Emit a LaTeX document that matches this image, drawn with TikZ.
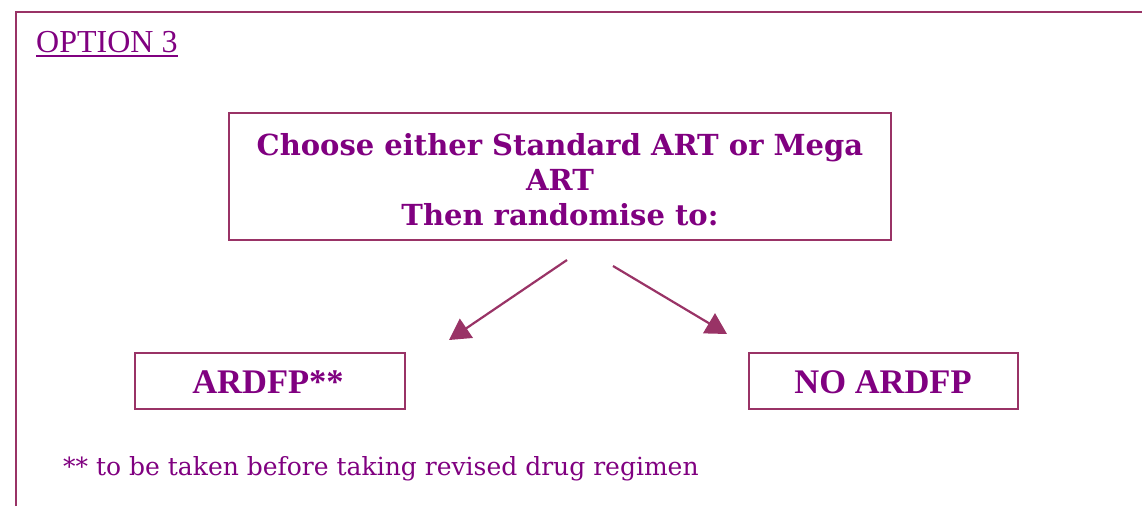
\documentclass[tikz,border=0pt]{standalone}
\usepackage{fontspec}
\setmainfont{Liberation Serif}
\newfontfamily\geo{DejaVu Serif}
\usetikzlibrary{arrows.meta,calc}
\definecolor{plum}{HTML}{993366}
\definecolor{txt}{HTML}{800080}
\tikzset{
  frame/.style={draw=plum,line width=2.4pt},
  boxnode/.style={draw=plum,line width=2pt,inner sep=0pt},
  boxtext/.style={text=txt,inner sep=0pt,anchor=base,font=\fontsize{34.5}{38}\selectfont\bfseries},
  maintext/.style={text=txt,inner sep=0pt,anchor=base,font=\geo\fontsize{29}{32}\selectfont\bfseries},
  arr/.style={draw=plum,fill=plum,line width=2.2pt,-{Triangle[length=21pt,width=23pt]}}
}
\begin{document}
\begin{tikzpicture}[x=1pt,y=-1pt]
\useasboundingbox (0,0) rectangle (1142,506);
\draw[frame] (16,506) -- (16,12) -- (1142,12);
\node[text=txt,inner sep=0pt,anchor=base west,font=\fontsize{32}{36}\selectfont] (opt) at (36,52) {OPTION 3};
\draw[txt,line width=1.8pt] ($(opt.base west)+(0,4)$) -- ($(opt.base east)+(0,4)$);
\node[boxnode,minimum width=662pt,minimum height=127pt] (main) at (560,176.5) {};
\node[maintext] (l1) at (560,155) {Choose either Standard ART or Mega};
\node[maintext] (l2) at (560,190) {ART};
\node[maintext] (l3) at (560,225) {Then randomise to:};
\node[boxnode,minimum width=270pt,minimum height=56pt] (left) at (269.5,381) {};
\node[boxtext] (lt) at (268,393) {ARDFP**};
\node[boxnode,minimum width=269pt,minimum height=56pt] (right) at (883.5,381) {};
\node[boxtext] (rt) at (883,393) {NO ARDFP};
\coordinate (s1) at (567,260);
\coordinate (e1) at (449,340);
\coordinate (s2) at (613,266);
\coordinate (e2) at (727,334);
\draw[arr] (s1) -- (e1);
\draw[arr] (s2) -- (e2);
\node[text=txt,inner sep=0pt,anchor=base west,font=\geo\fontsize{25}{29}\selectfont] (foot) at (63,475) {** to be taken before taking revised drug regimen};
\end{tikzpicture}
\end{document}
